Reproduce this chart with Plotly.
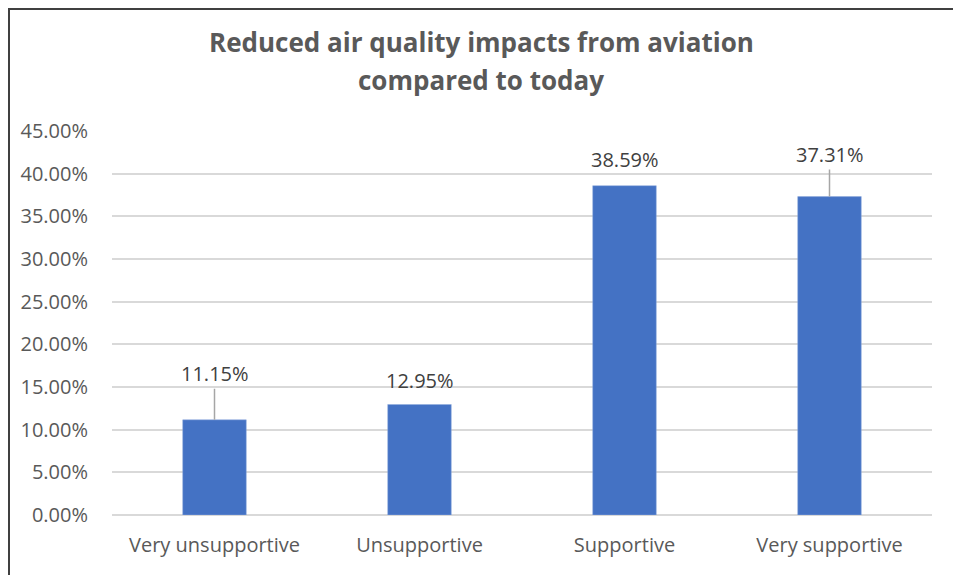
import plotly.graph_objects as go

CATEGORIES = ["Very unsupportive", "Unsupportive", "Supportive", "Very supportive"]
SHARES = [0.1115, 0.1295, 0.3859, 0.3731]
# pixel offset of each data label above its bar; labels pulled further up get a leader line
LABEL_OFFSETS = [-46, -24, -26, -42]
HAS_LEADER = [True, False, False, True]
TITLE_LINES = ["Reduced air quality impacts from aviation", "compared to today"]
Y_TICKS = [i * 0.05 for i in range(10)]

# the page puts the figure 8px in from the top-left corner
PAGE_OFFSET = 8
WIDTH, HEIGHT = 961 - PAGE_OFFSET, 575 - PAGE_OFFSET
MARGIN = {"l": 104, "r": 29, "t": 123, "b": 60}
FONT = "'Open Sans', Lato, sans-serif"

plot_w = WIDTH - MARGIN["l"] - MARGIN["r"]
plot_h = HEIGHT - MARGIN["t"] - MARGIN["b"]


def px_to_paper_y(py):
    return (HEIGHT - MARGIN["b"] - (py - PAGE_OFFSET)) / plot_h


def px_to_paper_x(px):
    return (px - PAGE_OFFSET - MARGIN["l"]) / plot_w


fig = go.Figure(
    go.Bar(
        x=CATEGORIES,
        y=SHARES,
        marker={"color": "#4472C4", "line": {"color": "#8FAADC", "width": 0.5}},
        hovertemplate="%{x}: %{y:.2%}<extra></extra>",
    )
)

annotations = []
for cat, val, offset, leader in zip(CATEGORIES, SHARES, LABEL_OFFSETS, HAS_LEADER):
    annotations.append(
        {
            "x": cat,
            "y": val,
            "text": f"{val * 100:.2f}%",
            "showarrow": True,
            "arrowhead": 0,
            "arrowwidth": 1.5,
            "arrowcolor": "#A6A6A6" if leader else "rgba(0,0,0,0)",
            "ax": 0,
            "ay": offset,
            "standoff": 0,
            "font": {"size": 20, "color": "#404040", "family": FONT},
        }
    )

for line, py in zip(TITLE_LINES, [42, 80]):
    annotations.append(
        {
            "xref": "paper",
            "yref": "paper",
            "x": px_to_paper_x(481),
            "y": px_to_paper_y(py),
            "text": f"<b>{line}</b>",
            "showarrow": False,
            "xanchor": "center",
            "yanchor": "middle",
            "font": {"size": 26, "color": "#595959", "family": FONT},
        }
    )

fig.update_layout(
    width=WIDTH,
    height=HEIGHT,
    margin=MARGIN,
    paper_bgcolor="#ffffff",
    plot_bgcolor="#ffffff",
    font={"family": FONT, "color": "#595959", "size": 20},
    bargap=0.69,
    showlegend=False,
    annotations=annotations,
    shapes=[
        {
            "type": "rect",
            "xref": "paper",
            "yref": "paper",
            "x0": px_to_paper_x(PAGE_OFFSET + 1),
            "x1": px_to_paper_x(960),
            "y0": px_to_paper_y(620),
            "y1": px_to_paper_y(PAGE_OFFSET + 1),
            "line": {"color": "#404040", "width": 2},
            "layer": "above",
        }
    ],
)
fig.update_xaxes(
    showgrid=False,
    showline=False,
    ticks="",
    ticklabelstandoff=16,
    tickfont={"size": 20, "color": "#595959"},
)
fig.update_yaxes(
    range=[0, 0.45],
    tickvals=Y_TICKS,
    tickformat=".2%",
    showgrid=True,
    gridcolor="#D9D9D9",
    gridwidth=1.5,
    zeroline=True,
    zerolinecolor="#D9D9D9",
    zerolinewidth=1.5,
    ticks="",
    ticklabelstandoff=23,
    tickfont={"size": 20, "color": "#595959"},
)

fig.write_html("out.html")
